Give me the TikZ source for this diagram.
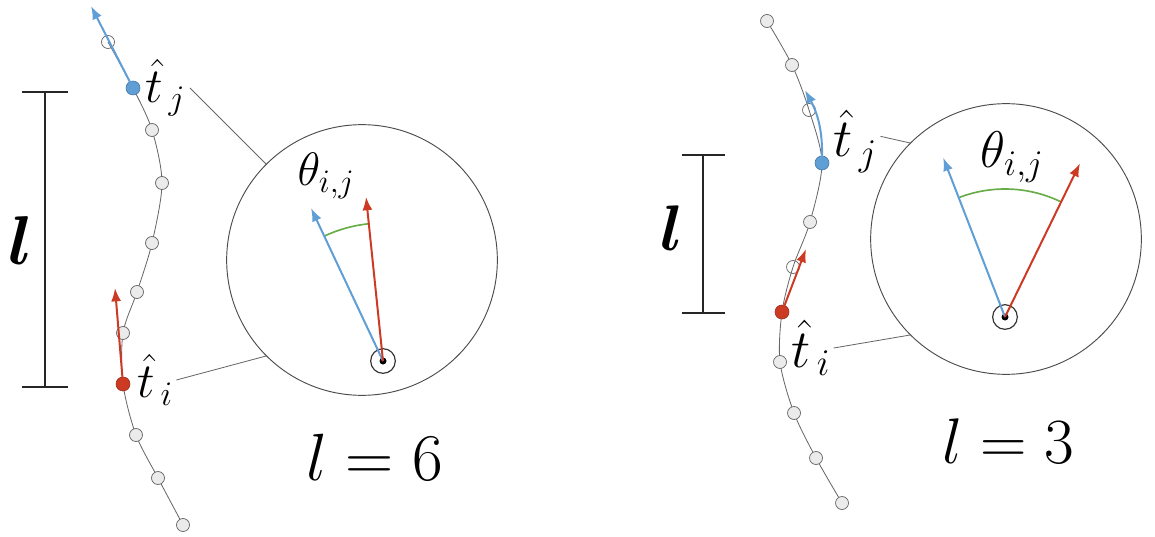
\RequirePackage{fix-cm}
\documentclass[tikz,border=0pt]{standalone}
\usepackage{amsmath, amssymb}
\usepackage{tikz}
\usetikzlibrary{arrows.meta}
\definecolor{vecblue}{RGB}{96,158,214}
\definecolor{vecred}{RGB}{204,58,36}
\definecolor{anglegreen}{RGB}{104,172,72}

\begin{document}
\begin{tikzpicture}[x=0.03cm, y=-0.03cm,
  pt/.style={circle, draw=black!60, fill=black!8, line width=0.6pt, inner sep=0pt, minimum size=0.39cm},
  hollow/.style={pt, fill=none},
  tpt/.style={circle, fill=#1, draw=#1!75!black, line width=0.5pt, inner sep=0pt, minimum size=0.42cm},
  chain/.style={black!60, line width=0.7pt},
  vec/.style={#1, line width=1.7pt, -{Latex[length=0.4cm, width=0.3cm]}},
  zoom/.style={circle, draw=black!70, line width=0.8pt, minimum size=8.12cm, inner sep=0pt},
  ring/.style={circle, draw=black!80, line width=1pt, minimum size=0.74cm, inner sep=0pt},
  lead/.style={black!60, line width=0.7pt},
  bar/.style={black!85, line width=0.9pt},
  arcline/.style={anglegreen, line width=1.4pt},
  lab/.style={font=\fontsize{#1}{#1}\selectfont, inner sep=1pt}]
  \useasboundingbox (0,0) rectangle (1155,537);

  \coordinate (pL1) at (108,42);  \coordinate (pL2) at (133,88);
  \coordinate (pL3) at (152,130); \coordinate (pL4) at (162,183);
  \coordinate (pL5) at (152,243); \coordinate (pL6) at (137,292);
  \coordinate (pL7) at (123,333); \coordinate (pL8) at (123,384);
  \coordinate (pL9) at (136,435); \coordinate (pL10) at (158,478);
  \coordinate (pL11) at (183,525);
  \draw[chain] plot[smooth] coordinates {(pL1) (pL2) (pL3) (pL4) (pL5) (pL6) (pL7) (pL8) (pL9) (pL10) (pL11)};
  \foreach \i in {3,4,5,6,7,9,10,11} \node[pt] (nL\i) at (pL\i) {};
  \node[hollow] (nL1) at (pL1) {};
  \node[tpt=vecblue] (tjL) at (pL2) {};
  \node[tpt=vecred] (tiL) at (pL8) {};
  \coordinate (aL1) at (91,6);
  \coordinate (aL2) at (115,288);
  \draw[vec=vecblue] (tjL.center) -- (aL1);
  \draw[vec=vecred] (tiL.center) -- (aL2);

  \node[lab=42, anchor=west] (ljL) at (144,88) {$\hat{t}_{\,j}$};
  \node[lab=42, anchor=west] (liL) at (136,380) {$\hat{t}_{\,i}$};
  \node[zoom] (zL) at (362,260) {};
  \draw[lead] ([xshift=3pt]ljL.east) -- (zL.135);
  \draw[lead] ([xshift=2pt]liL.east) -- (zL.225);
  \node[ring] (cL) at (383,361) {};
  \fill (cL.center) circle (3.5);
  \path (cL.center) ++(-115.2:169) coordinate (vbL);
  \path (cL.center) ++(-95.9:165) coordinate (vrL);
  \draw[arcline] (cL.center) ++(-115.2:138) arc[start angle=-115.2, end angle=-95.9, radius=138];
  \draw[vec=vecblue] (cL.center) -- (vbL);
  \draw[vec=vecred] (cL.center) -- (vrL);
  \node[lab=40] (thL) at (326,176) {$\theta_{i,j}$};

  \draw[bar] (22,92) -- (68,92) (45,92) -- (45,387) (22,387) -- (68,387);
  \node[lab=59] (lL) at (21,240) {$\boldsymbol{l}$};
  \node[lab=57, anchor=base west] (eqL) at (305,480) {$l=6$};

  \coordinate (pR1) at (767,21);  \coordinate (pR2) at (792,65);
  \coordinate (pR3) at (809,110); \coordinate (pR4) at (822,163);
  \coordinate (pR5) at (810,222); \coordinate (pR6) at (793,267);
  \coordinate (pR7) at (782,312); \coordinate (pR8) at (780,362);
  \coordinate (pR9) at (794,413); \coordinate (pR10) at (816,458);
  \coordinate (pR11) at (842,503);
  \draw[chain] plot[smooth] coordinates {(pR1) (pR2) (pR3) (pR4) (pR5) (pR6) (pR7) (pR8) (pR9) (pR10) (pR11)};
  \foreach \i in {1,2,5,8,9,10,11} \node[pt] (nR\i) at (pR\i) {};
  \node[hollow] (nR3) at (pR3) {};
  \node[hollow] (nR6) at (pR6) {};
  \node[tpt=vecblue] (tjR) at (pR4) {};
  \node[tpt=vecred] (tiR) at (pR7) {};
  \coordinate (aR1) at (805,90);
  \coordinate (aR2) at (806,249);
  \draw[vec=vecblue] (tjR.center) to[bend right=15] (aR1);
  \draw[vec=vecred] (tiR.center) -- (aR2);

  \node[lab=46, anchor=west] (ljR) at (832,141) {$\hat{t}_{\,j}$};
  \node[lab=46, anchor=west] (liR) at (790,348) {$\hat{t}_{\,i}$};
  \node[zoom] (zR) at (1006,239) {};
  \draw[lead] ([xshift=2pt, yshift=4pt]ljR.east) -- (zR.135);
  \draw[lead] ([xshift=2pt]liR.east) -- (zR.225);
  \node[ring] (cR) at (1005,317) {};
  \fill (cR.center) circle (3.5);
  \path (cR.center) ++(-111.2:171) coordinate (vbR);
  \path (cR.center) ++(-64:171) coordinate (vrR);
  \draw[arcline] (cR.center) ++(-111.2:128) arc[start angle=-111.2, end angle=-64, radius=128];
  \draw[vec=vecblue] (cR.center) -- (vbR);
  \draw[vec=vecred] (cR.center) -- (vrR);
  \node[lab=44] (thR) at (1012,157) {$\theta_{i,j}$};

  \draw[bar] (682,155) -- (725,155) (703,155) -- (703,313) (682,313) -- (725,313);
  \node[lab=55] (lR) at (672,228) {$\boldsymbol{l}$};
  \node[lab=55, anchor=base west] (eqR) at (941,463) {$l=3$};
\end{tikzpicture}
\end{document}
